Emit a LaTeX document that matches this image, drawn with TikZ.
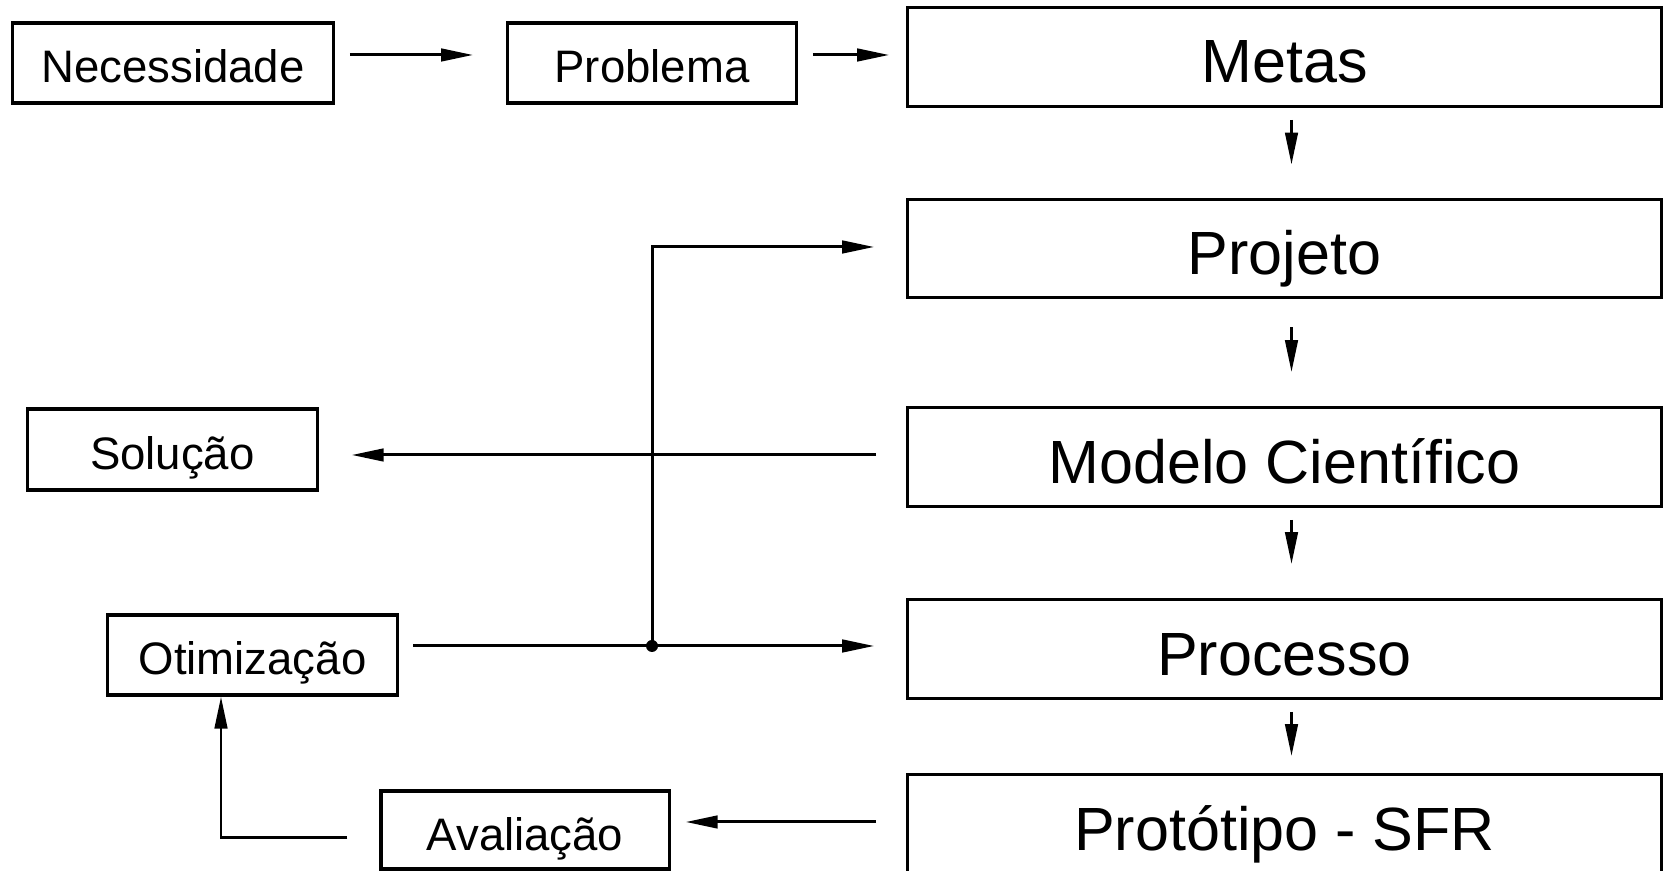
\documentclass[tikz,border=0pt]{standalone}
\usepackage{fontspec}
\setmainfont{Liberation Sans}
\usetikzlibrary{arrows.meta,calc}
\begin{document}
\begin{tikzpicture}[x=0.01cm,y=-0.01cm,
  bigbox/.style={draw, line width=0.9pt, inner sep=0pt, minimum width=7.53cm, minimum height=0.985cm,
    font=\fontsize{17.36pt}{20pt}\selectfont, text height=0.52cm, text depth=0pt},
  smallbox/.style={draw, line width=0.9pt, inner sep=0pt, minimum height=0.8cm,
    font=\fontsize{12.95pt}{15pt}\selectfont, text height=0.40cm, text depth=0pt},
  arr/.style={line width=0.85pt, -{Triangle[length=0.32cm,width=0.125cm]}},
  plainline/.style={line width=0.85pt}]
\fill[white] (0,0) rectangle (1663,871);
\useasboundingbox (0,0) rectangle (1663,871);

% small boxes
\node[smallbox, minimum width=3.203cm] (nec) at (173,63) {Necessidade};
\node[smallbox, minimum width=2.885cm] (prob) at (652,63) {Problema};
\node[smallbox, minimum width=2.894cm, minimum height=0.81cm] (sol) at (172.3,449.5) {Solução};
\node[smallbox, minimum width=2.89cm] (otim) at (252.5,655) {Otimização};
\node[smallbox, minimum width=2.88cm, minimum height=0.78cm] (aval) at (525,830) {Avaliação};

% big boxes
\node[bigbox] (metas) at (1284.5,57) {Metas};
\node[bigbox] (proj) at (1284.5,248.5) {Projeto};
\node[bigbox] (modelo) at (1284.5,457) {Modelo Científico};
\node[bigbox] (proc) at (1284.5,649) {Processo};
\node[bigbox] (prot) at (1284.5,824) {Protótipo - SFR};

% top row
\draw[arr] ($(nec.east)+(15,-8)$) -- ($(prob.west)+(-33,-8)$);
\draw[arr] ($(prob.east)+(15,-8)$) -- ($(metas.west)+(-17,-2)$);

% vertical chain
\draw[arr] ($(metas.south)+(7,12)$) -- ($(proj.north)+(7,-33)$);
\draw[arr] ($(proj.south)+(7,28)$) -- ($(modelo.north)+(7,-34)$);
\draw[arr] ($(modelo.south)+(7,12)$) -- ($(proc.north)+(7,-34)$);
\draw[arr] ($(proc.south)+(7,12)$) -- ($(prot.north)+(7,-17)$);

% modelo -> solucao
\draw[arr] ($(modelo.west)+(-30,-2)$) -- ($(sol.east)+(33,5.5)$);

% otimizacao -> processo and projeto
\coordinate (J) at (652,646);
\draw[arr] ($(otim.east)+(14.5,-9)$) -- ($(proc.west)+(-32,-3)$);
\draw[arr] (J) |- ($(proj.west)+(-32,-1.5)$);
\fill (J) circle[radius=0.06cm];

% prototipo -> avaliacao -> otimizacao
\draw[arr] ($(prot.west)+(-30,-2)$) -- ($(aval.east)+(15,-8)$);
\draw[arr] ($(aval.west)+(-32,8)$) -| ($(otim.south)+(-31.5,0)$);
\end{tikzpicture}
\end{document}
